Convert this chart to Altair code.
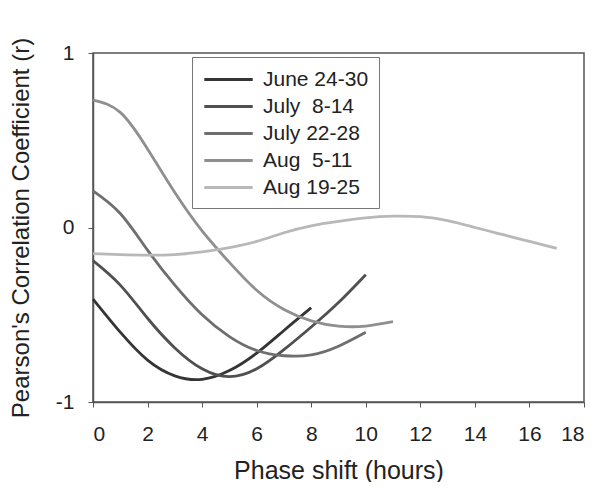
import altair as alt
import pandas as pd

series_names = ["June 24-30", "July\u00a0\u00a08-14", "July 22-28", "Aug\u00a0\u00a05-11", "Aug 19-25"]
series_colors = ["#353535", "#505050", "#6e6e6e", "#8f8f8f", "#b8b8b8"]

hours_june = [0, 1, 2, 3, 4, 5, 6, 7, 8]
r_june = [-0.41, -0.60, -0.76, -0.85, -0.87, -0.82, -0.72, -0.59, -0.46]

hours_jul8 = [0, 1, 2, 3, 4, 5, 6, 7, 8, 9, 10]
r_jul8 = [-0.19, -0.33, -0.52, -0.69, -0.81, -0.855, -0.81, -0.70, -0.57, -0.43, -0.27]

hours_jul22 = [0, 1, 2, 3, 4, 5, 6, 7, 8, 9, 10]
r_jul22 = [0.21, 0.08, -0.13, -0.33, -0.50, -0.625, -0.705, -0.735, -0.73, -0.68, -0.60]

hours_aug5 = [0, 1, 2, 3, 4, 5, 6, 7, 8, 9, 10, 11]
r_aug5 = [0.73, 0.66, 0.45, 0.20, -0.02, -0.20, -0.36, -0.47, -0.535, -0.565, -0.565, -0.54]

hours_aug19 = [0, 1, 2, 3, 4, 5, 6, 7, 8, 9, 10, 11, 12, 13, 14, 15, 16, 17]
r_aug19 = [-0.15, -0.155, -0.158, -0.155, -0.14, -0.115, -0.08, -0.03, 0.01, 0.035,
           0.055, 0.065, 0.062, 0.04, 0.0, -0.04, -0.08, -0.12]

x_ticks = [0, 2, 4, 6, 8, 10, 12, 14, 16, 18]
y_ticks = [-1, 0, 1]

rows = []
for name, hs, rs in zip(series_names,
                        [hours_june, hours_jul8, hours_jul22, hours_aug5, hours_aug19],
                        [r_june, r_jul8, r_jul22, r_aug5, r_aug19]):
    for h, r in zip(hs, rs):
        rows.append({"series": name, "hours": h, "r": r})
df = pd.DataFrame(rows)

FONT = "Liberation Sans"

chart = alt.Chart(df).mark_line(interpolate="natural", strokeWidth=2.8).encode(
    x=alt.X("hours:Q",
            scale=alt.Scale(domain=[0, 18], nice=False),
            axis=alt.Axis(values=x_ticks, title="Phase shift (hours)", grid=False,
                          tickSize=5, labelPadding=16, titlePadding=14)),
    y=alt.Y("r:Q",
            scale=alt.Scale(domain=[-1, 1], nice=False),
            axis=alt.Axis(values=y_ticks, title="Pearson's Correlation Coefficient (r)",
                          labelExpr="'' + datum.value", titleFontSize=24,
                          grid=False, tickSize=5, labelPadding=14, titlePadding=22)),
    color=alt.Color("series:N",
                    scale=alt.Scale(domain=series_names, range=series_colors),
                    legend=alt.Legend(title=None, orient="none", legendX=99, legendY=4,
                                      symbolType="M-2.2,0L2.2,0", symbolStrokeWidth=3,
                                      symbolFillColor="transparent", symbolOffset=14,
                                      symbolSize=484, labelFontSize=21,
                                      strokeColor="#777777",
                                      fillColor="white",
                                      padding=10, rowPadding=4, labelOffset=22,
                                      labelFont=FONT, labelColor="#222222")),
    detail="series:N",
).properties(
    width=491, height=349,
    autosize=alt.AutoSizeParams(type="none"),
    padding={"left": 85, "top": 45, "right": 10, "bottom": 80},
).configure_view(
    stroke="#555555", strokeWidth=1.5
).configure_axis(
    labelFont=FONT, titleFont=FONT, labelFontSize=21, titleFontSize=25,
    titleFontWeight="normal", labelColor="#222222", titleColor="#222222",
    domainColor="#555555", tickColor="#555555", domainWidth=1.5,
)

chart.save("out.html", embed_options={"renderer": "svg", "actions": False})
